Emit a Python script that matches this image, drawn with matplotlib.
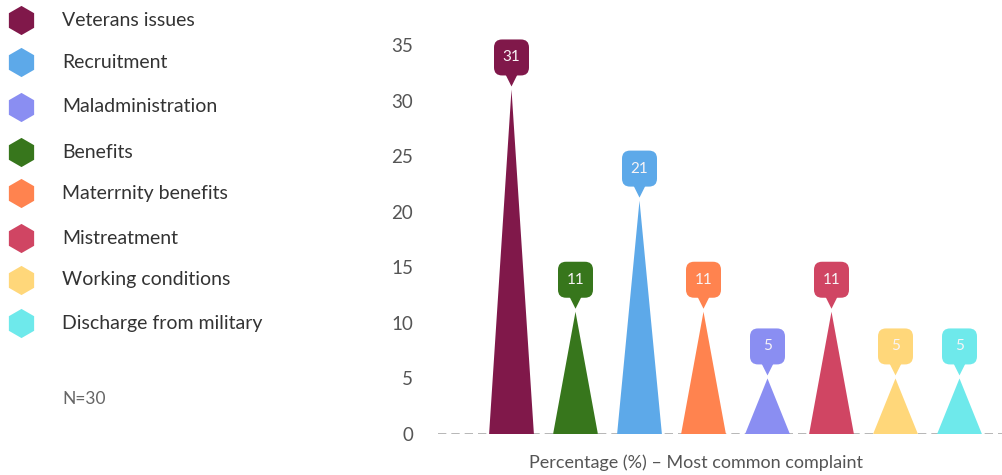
import matplotlib
matplotlib.use("Agg")
import matplotlib.pyplot as plt
import matplotlib.transforms as mtransforms
from matplotlib.patches import FancyBboxPatch, Polygon

plt.rcParams['font.family'] = ['Lato', 'DejaVu Sans']

# ---- data ----
categories = ["Veterans issues", "Benefits", "Recruitment", "Materrnity benefits",
              "Maladministration", "Mistreatment", "Working conditions",
              "Discharge from military"]
values = [31, 11, 21, 11, 5, 11, 5, 5]
colors = ["#80184A", "#37761C", "#5DA9E9", "#FF834F",
          "#8A8EF2", "#D04563", "#FFD77A", "#6EE9EB"]
legend_order = ["Veterans issues", "Recruitment", "Maladministration", "Benefits",
                "Materrnity benefits", "Mistreatment", "Working conditions",
                "Discharge from military"]
yticks = [0, 5, 10, 15, 20, 25, 30, 35]
note = "N=30"
xlabel = "Percentage (%) \u2013 Most common complaint"

W, H = 1003, 475
fig = plt.figure(figsize=(W / 100, H / 100), dpi=100)

# main axes in pixel layout
left_px, right_px, bottom_px, top_px = 438, 1003, 434, 45
ax = fig.add_axes([left_px / W, 1 - bottom_px / H,
                   (right_px - left_px) / W, (bottom_px - top_px) / H])
ax.set_ylim(0, 35)
ax.set_xlim((438 - 511.5) / 64, (1003 - 511.5) / 64)
for s in ax.spines.values():
    s.set_visible(False)
ax.set_xticks([])
ax.set_yticks(yticks)
ax.tick_params(axis='y', length=0, pad=18, labelsize=13.5, labelcolor='#555555')
ax.axhline(0, color='#aaaaaa', lw=1.2, ls=(0, (5, 3)), zorder=1)

half = 0.35
color_of = dict(zip(categories, colors))
for i, (cat, v, c) in enumerate(zip(categories, values, colors)):
    tri = Polygon([(i - half, 0), (i + half, 0), (i, v)], closed=True,
                  facecolor=c, edgecolor='none', zorder=2)
    ax.add_patch(tri)
    # bubble in pixel units anchored at apex
    tr = mtransforms.ScaledTranslation(i, v, ax.transData)
    bw, bh, gap = 35, 36, 14
    box = FancyBboxPatch((-bw / 2, gap), bw, bh,
                         boxstyle="round,pad=0,rounding_size=8",
                         facecolor=c, edgecolor='none',
                         zorder=3, clip_on=False)
    ax.add_artist(box)
    box.set_transform(tr)
    ptr = Polygon([(-6, gap + 1), (6, gap + 1), (0, 3)], closed=True,
                  facecolor=c, edgecolor='none', zorder=3, clip_on=False)
    ax.add_artist(ptr)
    ptr.set_transform(tr)
    ax.annotate(str(v), xy=(i, v), xytext=(0, (gap + bh / 2) * 0.72),
                textcoords='offset points', ha='center', va='center',
                color='#f8f4f6', fontsize=11, zorder=4, annotation_clip=False)

# legend
leg_y = [20, 62, 107, 152, 193, 238, 280, 323]
lax = fig.add_axes([0, 0, 1, 1], facecolor='none')
lax.set_xlim(0, W)
lax.set_ylim(H, 0)
lax.axis('off')
for y, name in zip(leg_y, legend_order):
    lax.plot([21], [y], marker='h', markersize=21, color=color_of[name],
             markeredgewidth=0, linestyle='none')
    lax.text(62, y, name, ha='left', va='center', fontsize=14, color='#333333')
lax.text(62, 399, note, ha='left', va='center', fontsize=12.5, color='#666666')

fig.text(696 / W, 1 - 463 / H, xlabel, ha='center', va='center',
         fontsize=13, color='#555555')

fig.savefig("out.png", dpi=100)
